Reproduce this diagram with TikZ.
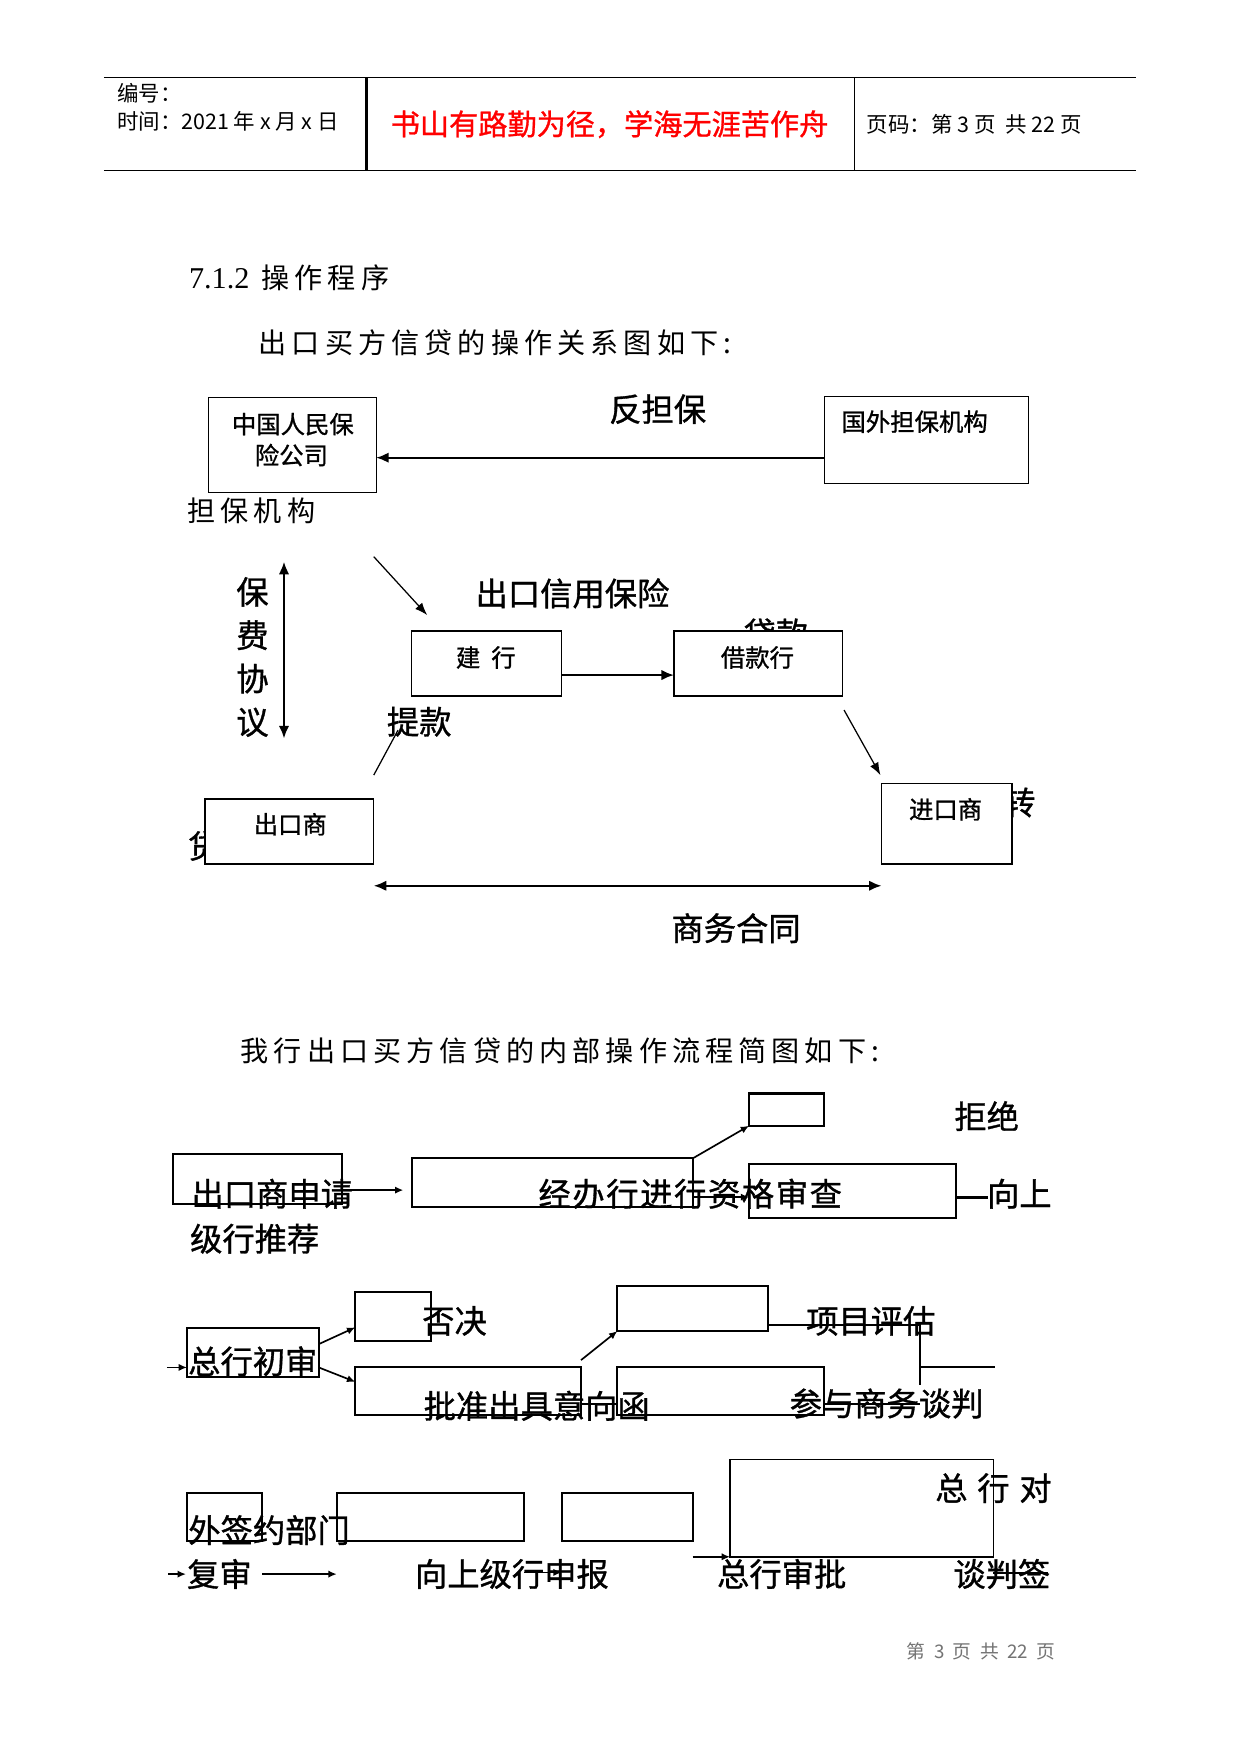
\documentclass[tikz,border=0pt]{standalone}
\usepackage{fontspec}
\setmainfont{Liberation Serif}
\newfontfamily\cjk{Noto Sans CJK SC}
\newfontfamily\cjkb[FakeBold=1]{Noto Sans CJK SC}
\newfontfamily\cjkbsp[FakeBold=1,LetterSpace=5]{Noto Sans CJK SC}
\newfontfamily\cjksp[LetterSpace=18]{Noto Sans CJK SC}
\usetikzlibrary{arrows.meta,fit}
\newcommand\fsz[1]{\fontsize{#1}{#1}\selectfont}
\begin{document}
\begin{tikzpicture}[x=0.54pt,y=-0.54pt,
  every node/.style={inner sep=0pt, outer sep=0pt},
  boxa/.style={draw, line width=0.6pt, fill=white, inner sep=0pt},
  boxb/.style={draw, line width=1pt, inner sep=0pt},
  boxc/.style={draw, line width=0.7pt, inner sep=0pt},
  lbl/.style={font=\cjkb\fsz{15.5pt}},
  slbl/.style={font=\cjkb\fsz{11.7pt}},
  hdr/.style={font=\cjk\fsz{10.3pt}, anchor=west},
  paratext/.style={font=\cjksp\fsz{13.5pt}, anchor=west},
  arra/.style={line width=1pt, -{Latex[length=6pt,width=5pt]}},
  arrt/.style={line width=0.6pt, -{Latex[length=6pt,width=4.5pt]}},
  darr/.style={line width=1pt, {Latex[length=6pt,width=5pt]}-{Latex[length=6pt,width=5pt]}},
  arrs/.style={line width=0.8pt, -{Latex[length=4pt,width=3.5pt]}},
  ln/.style={line width=1pt},
  lnt/.style={line width=0.6pt}
]
\fill[white] (0,0) rectangle (1103,1559);
\useasboundingbox (0,0) rectangle (1103,1559);

\begin{scope}[xscale=0.995]
% ---------------- header ----------------
\coordinate (hTL) at (92.8,68.7);  \coordinate (hTR) at (1014.8,68.7);
\coordinate (hBL) at (92.8,151.4); \coordinate (hBR) at (1014.8,151.4);
\coordinate (v1t) at (327.4,68.7); \coordinate (v1b) at (327.4,151.4);
\coordinate (v2t) at (763.7,68.7); \coordinate (v2b) at (763.7,151.4);
\draw[line width=0.7pt] (hTL) -- (hTR);
\draw[line width=0.7pt] (hBL) -- (hBR);
\draw[line width=1pt] (v1t) -- (v1b);
\draw[line width=0.4pt] (v2t) -- (v2b);
\node[hdr] (bh) at (104.6,83) {编号：};
\node[hdr] (sj) at (104.6,107.5) {时间：2021 年 x 月 x 日};
\node[font=\cjkb\fsz{14pt}, text=red] (title) at (544.5,110.4) {书山有路勤为径，学海无涯苦作舟};
\node[hdr] (ym) at (774.3,110.4) {页码：第 3 页\ \ 共 22 页};

% ---------------- diagram 1 ----------------
\node[boxa, fit={(186.2,353.2) (336,437.6)}] (zg) {};
\node[slbl] (zgt1) at (261.6,377) {中国人民保};
\node[slbl] (zgt2) at (260.3,404.5) {险公司};
\node[boxa, fit={(736.3,352.6) (918.6,429.6)}] (gw) {};
\node[slbl, anchor=west] (gwt) at (751.7,374.8) {国外担保机构};
\node[lbl] (fdb) at (587.5,363.7) {反担保};
\coordinate (y407) at (0,406.8);
\draw[arra] (gw.west |- y407) -- (zg.east |- y407);

\coordinate (bfT) at (253.7,499.3); \coordinate (bfB) at (253.7,656.3);
\draw[darr] (bfT) -- (bfB);
\node[font=\cjkb\fontsize{15.5pt}{20.8pt}\selectfont, align=center] (bfxy) at (225.5,584) {保\\费\\协\\议};

\coordinate (d1s) at (333.9,494.8); \coordinate (d1e) at (381.6,546.7);
\draw[arrt] (d1s) -- (d1e);
\node[lbl] (ckxy) at (511.4,527.4) {出口信用保险};

\node[lbl] (dk) at (693,563) {贷款};
\node[boxa, fit={(367.5,560.9) (501.9,618.7)}] (jh) {};
\node[slbl] (jht) at (434,584.4) {建\hspace{0.45em}行};
\node[boxa, fit={(602.1,560.9) (752.9,618.7)}] (jk) {};
\node[slbl] (jkt) at (676.6,584.4) {借款行};
\coordinate (y600) at (0,600);
\draw[arra] (jh.east |- y600) -- (jk.west |- y600);

\node[lbl] (tk) at (374.5,641.5) {提款};
\coordinate (tks) at (333.9,688.9); \coordinate (tke) at (355.6,648.9);
\draw[lnt] (tks) -- (tke);

\coordinate (d2s) at (754,631.1); \coordinate (d2e) at (786.5,688.9);
\draw[arrt] (d2s) -- (d2e);

\node[lbl] (dai) at (182.5,752) {贷};
\node[boxa, fit={(183.2,710.2) (333.9,768)}] (cks) {};
\node[slbl] (ckst) at (259.3,732.6) {出口商};

\node[lbl] (zhuan) at (910.5,713.3) {转};
\node[boxa, fit={(787.6,696.3) (904,768)}] (jks) {};
\node[slbl] (jkst) at (844.7,719.3) {进口商};

\coordinate (y787) at (0,787.3);
\draw[darr] (cks.east |- y787) -- (jks.west |- y787);
\node[lbl] (swht) at (657.5,825) {商务合同};
\end{scope}

% ---------------- section text ----------------
\node[anchor=west, font=\fsz{14.5pt}] (sec) at (168,247) {7.1.2\hspace{0.4em}{\cjksp\fsz{13.5pt}操作程序}};
\node[paratext] (p1) at (230,304.5) {出口买方信贷的操作关系图如下:};
\node[paratext] (dbjg) at (166.7,454) {担保机构};

% ---------------- diagram 2 ----------------
\node[paratext] (p2) at (214,934) {我行出口买方信贷的内部操作流程简图如下:};

% row 1
\node[boxb, fit={(153.5,1026) (303.7,1070)}] (s1) {};
\node[boxb, fit={(366,1029.6) (615.7,1072.6)}] (s2) {};
\node[boxb, fit={(665.8,971.9) (732.7,1000.6)}] (s3) {};
\node[boxb, fit={(665.8,1034.7) (849.8,1082.4)}] (s4) {};
\coordinate (y1058) at (0,1057.8); \coordinate (a1e) at (358.5,1057.8);
\draw[arrs] (s1.east |- y1058) -- (a1e);
\draw[arrs] (s2.north east) -- (s3.south west);
\coordinate (y1064) at (0,1064);
\draw[arrs, line width=1.2pt] (s2.east |- y1064) -- (s4.west |- y1064);
\coordinate (xsend) at (878.5,1064);
\draw[ln, line width=1.4pt] (s4.east |- y1064) -- (xsend);
\node[lbl] (cksq) at (242,1061) {出口商申请};
\node[font=\cjkbsp\fsz{15.5pt}] (jbh) at (613.5,1061) {经办行进行资格审查};
\node[lbl] (jj) at (877,992) {拒绝};
\node[lbl] (xs) at (906,1061) {向上};
\node[lbl, anchor=west] (jhtj) at (169,1101) {级行推荐};

% row 2
\node[boxb, fit={(166.2,1180.7) (283.3,1224.3)}] (r1) {};
\node[boxb, fit={(315.8,1148.1) (383.1,1192)}] (r2) {};
\node[boxb, fit={(315.8,1214.8) (516.4,1257.8)}] (r3) {};
\node[boxb, fit={(548.7,1142.8) (683,1183.1)}] (r4) {};
\node[boxb, fit={(548.7,1214.8) (732.4,1257.8)}] (r5) {};
\coordinate (r1in) at (148.4,1215.4);
\draw[arrs] (r1in) -- (r1.west |- r1in);
\coordinate (y1195) at (0,1194.7); \coordinate (y1180) at (0,1179.8);
\draw[arrs] (r1.east |- y1195) -- (r2.west |- y1180);
\coordinate (y1215) at (0,1215.4); \coordinate (y1228) at (0,1228.2);
\draw[arrs] (r1.east |- y1215) -- (r3.west |- y1228);
\coordinate (r3up) at (516.4,1208.9);
\draw[arrs] (r3up) -- (r4.south west);
\coordinate (y1178) at (0,1177.8);
\coordinate (vt) at (817.8,1177.8); \coordinate (vb) at (817.8,1231.1);
\coordinate (hm) at (817.8,1214.8); \coordinate (hr) at (884.4,1214.8);
\draw[ln] (r4.east |- y1178) -- (vt) -- (vb);
\draw[ln] (hm) -- (hr);
\coordinate (y1248) at (0,1248.3);
\draw[ln] (r3.east |- y1248) -- (r5.west |- y1248);
\coordinate (r5end) at (817.8,1248.3);
\draw[ln] (r5.east |- y1248) -- (r5end);
\node[lbl] (zhcs) at (224.7,1210) {总行初审};
\node[lbl] (fj) at (404,1174) {否决};
\node[lbl] (xmpg) at (774,1174) {项目评估};
\node[lbl, anchor=west] (pzcj) at (376.6,1249.5) {批准出具意向函};
\node[lbl] (cysw) at (788,1247.5) {参与商务谈判};

% row 3
\node[boxb, fit={(165.9,1326.8) (232.6,1369.8)}] (t1) {};
\node[boxb, fit={(299.3,1326.8) (466.1,1369.8)}] (t2) {};
\node[boxb, fit={(499.3,1326.8) (615.7,1369.8)}] (t3) {};
\node[boxc, fit={(648.9,1297.2) (883,1383.7)}] (t4) {};
\coordinate (fsin) at (149.6,1399.1); \coordinate (fsin2) at (165.3,1399.1);
\draw[arrs] (fsin) -- (fsin2);
\coordinate (fsa) at (233.2,1399.1); \coordinate (fsb) at (299.3,1399.1);
\draw[arrs] (fsa) -- (fsb);
\coordinate (y1398) at (0,1397.6);
\draw[arrs] (t2.south east |- y1398) -- (t3.south west |- y1398);
\draw[arrs] (t3.east |- t4.south west) -- (t4.south west);
\coordinate (y1399) at (0,1398.5); \coordinate (tpend) at (931.8,1398.5);
\draw[ln] (t4.east |- y1399) -- (tpend);
\node[lbl, anchor=west] (wqy) at (167.4,1360) {外签约部门};
\node[lbl] (fs) at (195,1399) {复审};
\node[lbl] (xsjh) at (455,1399) {向上级行申报};
\node[lbl] (zhd) at (883,1322.7) {总\hspace{0.3em}行\hspace{0.3em}对};
\node[lbl] (zhsp) at (694.8,1399) {总行审批};
\node[lbl] (tpq) at (890.4,1399) {谈判签};

% ---------------- footer ----------------
\node[font=\cjk\fsz{9pt}, text=black!55, anchor=east] (foot) at (938,1468) {第\hspace{0.45em}3\hspace{0.45em}页\hspace{0.45em}共\hspace{0.45em}22\hspace{0.45em}页};
\end{tikzpicture}
\end{document}
